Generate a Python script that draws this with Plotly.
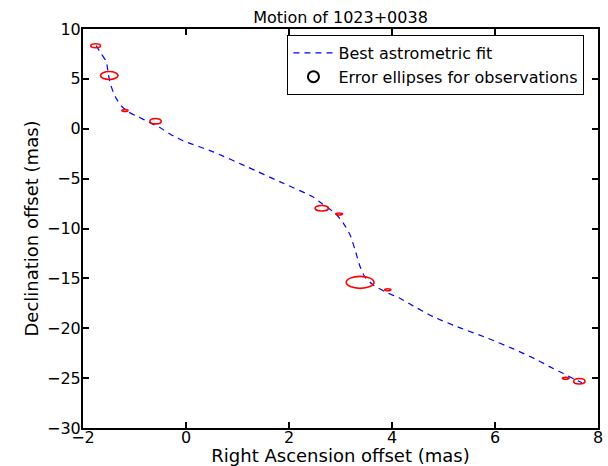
import plotly.graph_objects as go

# Best astrometric fit curve
fit_x = [-1.748, -1.645, -1.548, -1.509, -1.470, -1.373, -1.257, -1.121, -0.927, -0.733,
         -0.500, -0.248, -0.054, 0.529, 1.189, 1.829, 2.470, 2.636, 2.896, 3.057,
         3.187, 3.284, 3.381, 3.478, 3.639, 3.866, 4.158, 4.385, 4.805, 5.322,
         5.840, 6.356, 6.841, 7.068, 7.327, 7.534, 7.690]
fit_y = [8.35, 7.52, 6.72, 5.51, 4.51, 3.20, 2.30, 1.70, 1.19, 0.69,
         0.09, -0.71, -1.21, -2.32, -3.82, -5.33, -6.84, -7.50, -8.47, -9.48,
         -10.65, -12.16, -13.84, -14.90, -15.67, -16.34, -17.01, -17.68, -18.86, -19.96,
         -20.96, -22.07, -23.23, -23.87, -24.54, -25.08, -25.46]

# Observations: centres and error ellipse full widths/heights (mas)
obs_x = [-1.754, -1.490, -1.185, -0.591, 2.636, 2.974, 3.381, 3.919, 7.373, 7.637]
obs_y = [8.32, 5.34, 1.83, 0.76, -7.97, -8.54, -15.40, -16.14, -25.01, -25.31]
obs_w = [0.19, 0.34, 0.12, 0.22, 0.26, 0.13, 0.54, 0.12, 0.13, 0.22]
obs_h = [0.40, 0.80, 0.20, 0.55, 0.55, 0.20, 1.20, 0.20, 0.20, 0.55]

x_ticks = [-2, 0, 2, 4, 6, 8]
y_ticks = [10, 5, 0, -5, -10, -15, -20, -25, -30]

FONT = "DejaVu Sans"


def fmt(v):
    return ("\u2212" + str(-v)) if v < 0 else str(v)


fig = go.Figure()
fig.add_trace(go.Scatter(
    x=fit_x, y=fit_y, mode="lines", name="Best astrometric fit",
    line=dict(color="#0000ff", width=1.2, dash="6px,5px", shape="spline", smoothing=0.6),
))
fig.add_trace(go.Scatter(
    x=[None], y=[None], mode="markers", name="Error ellipses for observations",
    marker=dict(symbol="circle-open", color="black", size=11, line=dict(width=2, color="black")),
))

for cx, cy, w, h in zip(obs_x, obs_y, obs_w, obs_h):
    fig.add_shape(type="circle", xref="x", yref="y",
                  x0=cx - w / 2, x1=cx + w / 2, y0=cy - h / 2, y1=cy + h / 2,
                  line=dict(color="red", width=1.6))

axis_common = dict(
    showgrid=False, zeroline=False, showline=True, linecolor="black", linewidth=2,
    mirror="ticks", ticks="inside", ticklen=6, tickwidth=1.5, tickcolor="black",
    tickfont=dict(family=FONT, size=16, color="black"),
)
fig.update_xaxes(range=[-2, 8], tickvals=x_ticks, ticktext=[fmt(v) for v in x_ticks],
                 ticklabelstandoff=-6,
                 title=dict(text="Right Ascension offset (mas)", font=dict(family=FONT, size=18, color="black"), standoff=8),
                 **axis_common)
fig.update_yaxes(range=[-30, 10], tickvals=y_ticks, ticktext=[fmt(v) for v in y_ticks],
                 ticklabelstandoff=-3,
                 title=dict(text="Declination offset (mas)", font=dict(family=FONT, size=18, color="black"), standoff=4),
                 **axis_common)

fig.update_layout(
    width=608, height=466,
    margin=dict(l=83, r=10, t=29, b=38, autoexpand=False),
    plot_bgcolor="white", paper_bgcolor="white",
    title=dict(text="Motion of 1023+0038", x=0.5, xanchor="center", y=1 - 17 / 466, yanchor="middle",
               xref="paper", yref="container", font=dict(family=FONT, size=16, color="black")),
    legend=dict(x=0.397, y=0.985, xanchor="left", yanchor="top",
                bordercolor="black", borderwidth=1, bgcolor="white",
                font=dict(family=FONT, size=16, color="black"), itemwidth=40,
                tracegroupgap=0),
    showlegend=True,
)

fig.write_html("out.html", post_script="document.body.style.margin='0';",
               config={"displayModeBar": False})
